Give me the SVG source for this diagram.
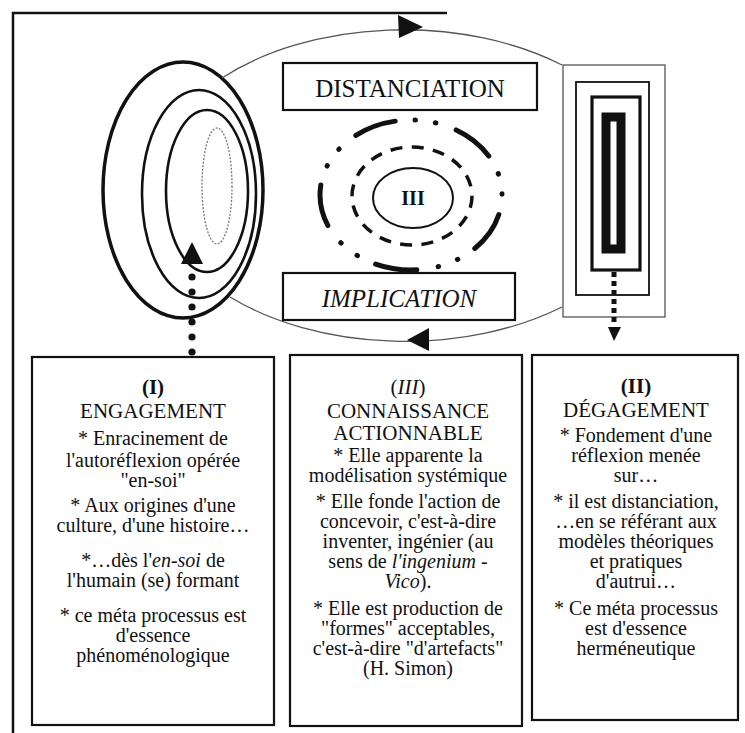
<svg xmlns="http://www.w3.org/2000/svg" width="745" height="733" viewBox="0 0 745 733">
<style>
text{font-family:"Liberation Serif","Times New Roman",serif;fill:#111;text-anchor:middle}
.t{font-size:20px}
.h{font-size:21px}
.thin{fill:none;stroke:#555;stroke-width:1.3}
.box{fill:#fff;stroke:#111;stroke-width:2.2}
.ell{fill:none;stroke:#111}
</style>
<rect width="745" height="733" fill="#fff"/>
<g id="frame" fill="none" stroke="#111" stroke-width="2.5">
<path d="M447,13 H13 V733"/>
</g>
<g id="degagement-rects">
<rect x="563" y="65" width="102" height="252" fill="none" stroke="#555" stroke-width="1.3"/>
<rect x="576" y="82" width="73" height="213" fill="none" stroke="#111" stroke-width="1.8"/>
<rect x="592" y="97" width="48" height="173" fill="none" stroke="#111" stroke-width="3.2"/>
<rect x="606" y="117" width="15" height="132" fill="none" stroke="#111" stroke-width="9"/>
</g>
<g id="engagement-loop">
<ellipse cx="183" cy="190" rx="80" ry="128" fill="none" stroke="#111" stroke-width="3.5"/>
<ellipse class="ell" cx="199" cy="194" rx="57" ry="104" stroke-width="2.6"/>
<ellipse class="ell" cx="207" cy="191" rx="41" ry="81" stroke-width="2.6"/>
<ellipse cx="217" cy="186" rx="15" ry="58" fill="none" stroke="#777" stroke-width="1.3" stroke-dasharray="2 1.5"/>
</g>
<g id="connectors">
<path class="thin" d="M222,78 A250,155 0 0,1 562,65"/>
<path class="thin" d="M562,307 A250,155 0 0,1 230,297"/>
<polygon points="398,15 423,27 399,38" fill="#111"/>
<polygon points="429,328 407,340 429,351" fill="#111"/>
<g fill="#111">
<circle cx="192" cy="277" r="3.6"/><circle cx="192" cy="292" r="3.6"/><circle cx="192" cy="307" r="3.6"/>
<circle cx="192" cy="322" r="3.6"/><circle cx="192" cy="337" r="3.6"/><circle cx="192" cy="352" r="3.6"/>
</g>
<polygon points="192,242 203,264 181,264" fill="#111"/>
<path d="M614,272 V326" stroke="#111" stroke-width="5" stroke-dasharray="5 4"/>
<polygon points="608,327 621,327 614,341" fill="#111"/>
</g>
<g id="distanciation">
<rect class="box" x="283" y="63" width="254" height="47"/>
<text x="410" y="97" style="font-size:25px">DISTANCIATION</text>
</g>
<g id="implication">
<rect class="box" x="283" y="273" width="232" height="47"/>
<text x="399" y="307" style="font-size:25px;font-style:italic">IMPLICATION</text>
</g>
<g id="center-III">
<ellipse cx="411" cy="195" rx="91" ry="75" fill="none" stroke="#111" stroke-width="5" stroke-linecap="round" stroke-dasharray="42 20 0.5 20 0.5 21.5" stroke-dashoffset="-20"/>
<ellipse cx="412" cy="196" rx="60" ry="49" fill="none" stroke="#111" stroke-width="3.5" stroke-dasharray="12 9.4"/>
<ellipse cx="413" cy="198" rx="40" ry="30" fill="none" stroke="#111" stroke-width="2"/>
<text x="413" y="205" style="font-size:20px;font-weight:bold">III</text>
</g>
<g id="box-engagement">
<rect class="box" x="32" y="357" width="242" height="368"/>
<text class="h" x="153" y="394" style="font-weight:bold">(I)</text>
<text class="h" x="153" y="418">ENGAGEMENT</text>
<text class="t" x="153" y="445">* Enracinement de</text>
<text class="t" x="153" y="467">l'autoréflexion opérée</text>
<text class="t" x="153" y="487">"en-soi"</text>
<text class="t" x="153" y="512">* Aux origines d'une</text>
<text class="t" x="153" y="532">culture, d'une histoire…</text>
<text class="t" x="153" y="567">*…dès l'<tspan font-style="italic">en-soi</tspan> de</text>
<text class="t" x="153" y="587">l'humain (se) formant</text>
<text class="t" x="153" y="622">* ce méta processus est</text>
<text class="t" x="153" y="642">d'essence</text>
<text class="t" x="153" y="662">phénoménologique</text>
</g>
<g id="box-connaissance">
<rect class="box" x="290" y="355" width="232" height="371"/>
<text class="h" x="408" y="394">(<tspan font-style="italic">III</tspan>)</text>
<text class="h" x="408" y="418">CONNAISSANCE</text>
<text class="h" x="408" y="440">ACTIONNABLE</text>
<text class="t" x="408" y="462">* Elle apparente la</text>
<text class="t" x="408" y="482">modélisation systémique</text>
<text class="t" x="408" y="508">* Elle fonde l'action de</text>
<text class="t" x="408" y="528">concevoir, c'est-à-dire</text>
<text class="t" x="408" y="548">inventer, ingénier (au</text>
<text class="t" x="408" y="568">sens de <tspan font-style="italic">l'ingenium</tspan> -</text>
<text class="t" x="408" y="588"><tspan font-style="italic">Vico</tspan>).</text>
<text class="t" x="408" y="615">* Elle est production de</text>
<text class="t" x="408" y="635">"formes" acceptables,</text>
<text class="t" x="408" y="655">c'est-à-dire "d'artefacts"</text>
<text class="t" x="408" y="675">(H. Simon)</text>
</g>
<g id="box-degagement">
<rect class="box" x="532" y="355" width="206" height="365"/>
<text class="h" x="636" y="393" style="font-weight:bold">(II)</text>
<text class="h" x="636" y="417">DÉGAGEMENT</text>
<text class="t" x="636" y="442">* Fondement d'une</text>
<text class="t" x="636" y="462">réflexion menée</text>
<text class="t" x="636" y="482">sur…</text>
<text class="t" x="636" y="508">* il est distanciation,</text>
<text class="t" x="636" y="528">…en se référant aux</text>
<text class="t" x="636" y="548">modèles théoriques</text>
<text class="t" x="636" y="568">et pratiques</text>
<text class="t" x="636" y="588">d'autrui…</text>
<text class="t" x="636" y="615">* Ce méta processus</text>
<text class="t" x="636" y="635">est d'essence</text>
<text class="t" x="636" y="655">herméneutique</text>
</g>
</svg>
